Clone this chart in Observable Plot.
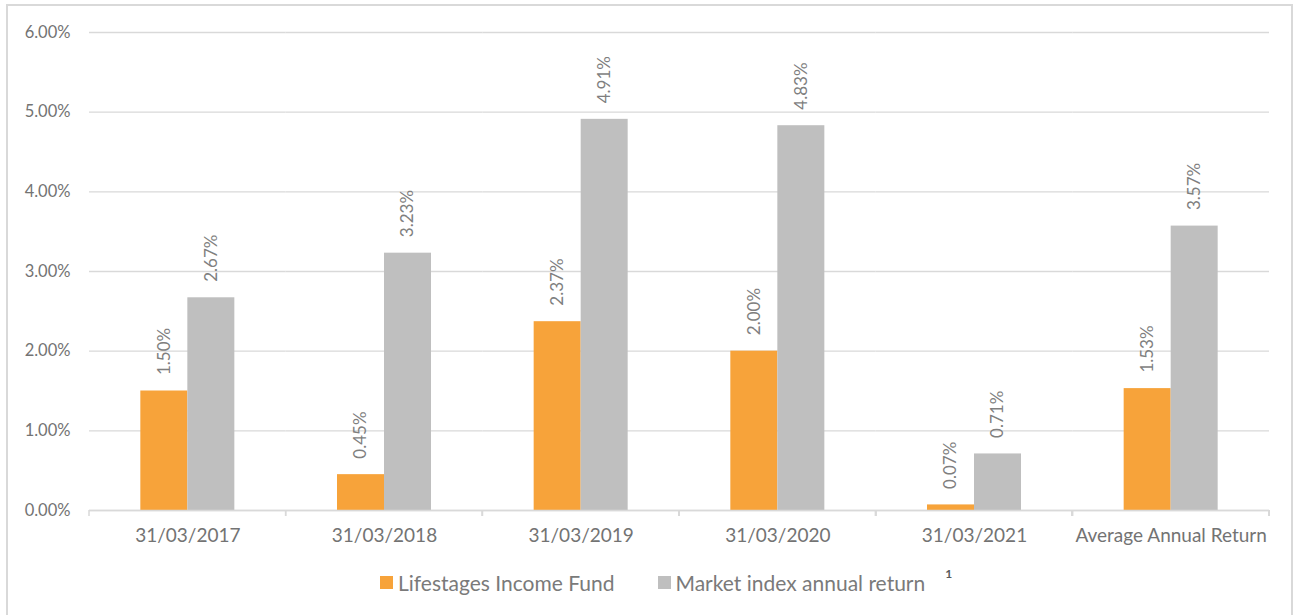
<!DOCTYPE html>
<html><head><meta charset="utf-8">
<script src="https://cdn.jsdelivr.net/npm/d3@7"></script>
<script src="https://cdn.jsdelivr.net/npm/@observablehq/plot@0.6"></script>
<style>
body{margin:0;background:#fff;font-family:Lato,"Open Sans",sans-serif;}
#frame{position:absolute;left:6px;top:4px;width:1287px;height:630px;border:2px solid #d9d9d9;border-bottom:none;box-sizing:border-box;}
#chart{position:absolute;left:0;top:0;}
#legend{position:absolute;left:380px;top:569px;height:26px;display:flex;align-items:center;font-size:21px;color:#7a7a7a;white-space:nowrap;}
.sw{display:inline-block;width:13px;height:13px;margin-right:5px;}
.item{display:flex;align-items:center;margin-right:43px;}
sup{font-size:12px;font-weight:bold;position:relative;top:-9px;margin-left:20px;color:#595959;}
</style></head>
<body>
<div id="frame"></div>
<div id="chart"></div>
<div id="legend"></div>
<script>
const categories = ["31/03/2017","31/03/2018","31/03/2019","31/03/2020","31/03/2021","Average Annual Return"];
const series = ["Lifestages Income Fund","Market index annual return"];
const fundValues = [1.50,0.45,2.37,2.00,0.07,1.53];
const indexValues = [2.67,3.23,4.91,4.83,0.71,3.57];
const colors = ["#F7A33A","#BFBFBF"];
const yTicks = [0,0.01,0.02,0.03,0.04,0.05,0.06];

const data = categories.flatMap((c,i)=>[
  {category:c, series:series[0], value:fundValues[i]/100},
  {category:c, series:series[1], value:indexValues[i]/100}
]);
const pct = d3.format(".2%");

const boundaryTicks = (index, scales, values, dimensions) => {
  const g = d3.create("svg:g");
  const fx = scales.fx;
  const edges = categories.map(c=>fx(c)).concat([fx(categories[categories.length-1])+fx.bandwidth()]);
  const y0 = dimensions.height - dimensions.marginBottom;
  for (const e of edges) {
    g.append("line").attr("x1",e).attr("x2",e).attr("y1",y0).attr("y2",y0+6)
      .attr("stroke","#d9d9d9").attr("stroke-width",1.5);
  }
  return g.node();
};

const chart = Plot.plot({
  width:1295, height:555,
  marginLeft:89, marginRight:26, marginTop:32, marginBottom:45,
  style:{fontFamily:'Lato,"Open Sans",sans-serif', fontSize:"16px", color:"#6f6f6f", background:"transparent"},
  fx:{domain:categories, padding:0, round:false, axis:null, label:null},
  x:{domain:series, paddingInner:0, paddingOuter:1.092, round:false, axis:null},
  y:{domain:[0,0.06], axis:null},
  color:{domain:series, range:colors},
  marks:[
    Plot.gridY(yTicks, {stroke:"#d9d9d9", strokeOpacity:1, strokeWidth:1.3}),
    Plot.axisY(yTicks, {tickSize:0, tickPadding:19, tickFormat:pct, label:null, fontSize:16.5, fill:"#737373"}),
    Plot.barY(data, {fx:"category", x:"series", y:"value", fill:"series"}),
    Plot.text(data, {fx:"category", x:"series", y:"value", text:d=>pct(d.value), rotate:-90, textAnchor:"start", dy:-16, fill:"#7f7f7f", fontSize:17}),
    Plot.ruleY([0], {stroke:"#d9d9d9", strokeWidth:1.5}),
    Plot.axisFx({anchor:"bottom", tickSize:0, tickPadding:18, label:null, fontSize:19, fill:"#737373"}),
    boundaryTicks
  ]
});
document.getElementById("chart").appendChild(chart);

const legend = document.getElementById("legend");
series.forEach((s,i)=>{
  const it = document.createElement("span"); it.className="item";
  if (i===series.length-1) it.style.marginRight="0";
  const sw = document.createElement("span"); sw.className="sw"; sw.style.background=colors[i];
  it.appendChild(sw); it.appendChild(document.createTextNode(s));
  legend.appendChild(it);
});
const sup = document.createElement("sup"); sup.textContent="1"; legend.appendChild(sup);
</script>
</body></html>
